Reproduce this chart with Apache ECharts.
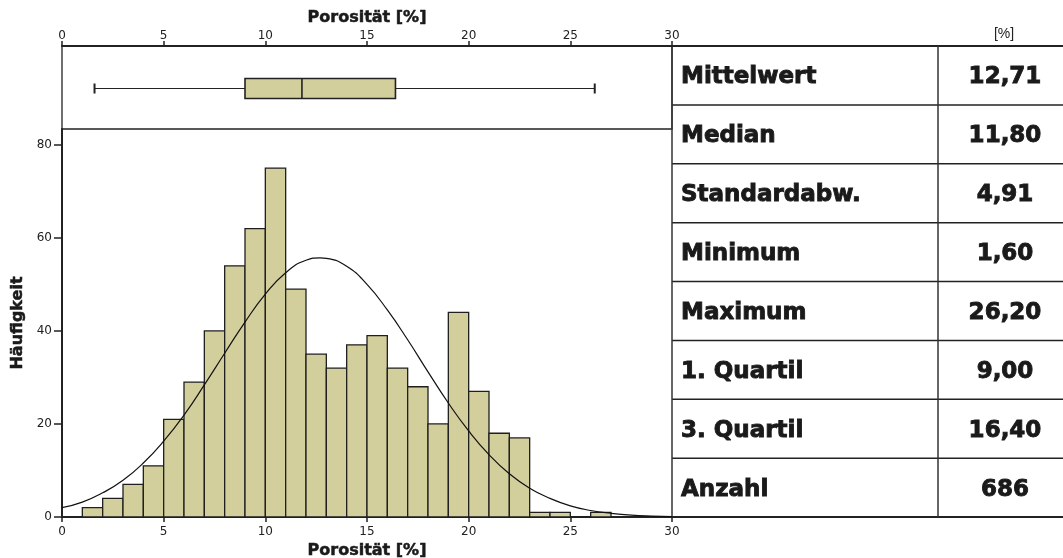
<!DOCTYPE html>
<html>
<head>
<meta charset="utf-8">
<script src="https://cdn.jsdelivr.net/npm/echarts@6/dist/echarts.min.js"></script>
<style>
  html, body { margin: 0; padding: 0; background: #fff; }
  #main { width: 1063px; height: 558px; }
</style>
</head>
<body>
<div id="main"></div>
<script>
// Klassen (1 %-Schritte) und Häufigkeiten
var binStarts = [1, 2, 3, 4, 5, 6, 7, 8, 9, 10, 11, 12, 13, 14, 15, 16, 17, 18, 19, 20, 21, 22, 23, 24, 25, 26];
var counts = [2, 4, 7, 11, 21, 29, 40, 54, 62, 75, 49, 35, 32, 37, 39, 32, 28, 20, 44, 27, 18, 17, 1, 1, 0, 1];

// Normalverteilungskurve
var curveX = [0, 1, 2, 3, 4, 5, 6, 7, 8, 9, 10, 11, 12, 12.7, 13, 14, 15, 16, 17, 18, 19, 20, 21, 22, 23, 24, 25, 26, 27, 28, 29, 30];
var curveY = [2.0, 3.2, 5.2, 7.9, 11.6, 16.3, 21.9, 28.4, 35.2, 41.9, 47.9, 52.5, 55.2, 55.7, 55.6, 53.9, 50.0, 44.5, 38.1, 31.2, 24.5, 18.5, 13.4, 9.3, 6.2, 4.0, 2.4, 1.4, 0.8, 0.4, 0.2, 0.1];

// Boxplot: Min, Q1, Median, Q3, Max
var boxStats = [1.6, 9.0, 11.8, 16.4, 26.2];

var yTicks = [0, 20, 40, 60, 80];
var statLabels = ['Mittelwert', 'Median', 'Standardabw.', 'Minimum', 'Maximum', '1. Quartil', '3. Quartil', 'Anzahl'];
var statValues = ['12,71', '11,80', '4,91', '1,60', '26,20', '9,00', '16,40', '686'];
var unitLabel = '[%]';

var chart = echarts.init(document.getElementById('main'));

// Tabelle rechts
var tblLeft = 672, tblMid = 938, tblRight = 1063, tblTop = 46, rowH = 58.875;
var lineStyle = { stroke: '#333', lineWidth: 1.5 };
var graphics = [];
for (var i = 0; i <= statLabels.length; i++) {
  var yy = tblTop + i * rowH;
  graphics.push({ type: 'line', shape: { x1: tblLeft, y1: yy, x2: tblRight, y2: yy },
    style: { stroke: '#222', lineWidth: (i == 0 || i == statLabels.length) ? 2 : 1.5 } });
}
graphics.push({ type: 'line', shape: { x1: tblLeft, y1: tblTop, x2: tblLeft, y2: tblTop + 8 * rowH }, style: lineStyle });
graphics.push({ type: 'line', shape: { x1: tblMid, y1: tblTop, x2: tblMid, y2: tblTop + 8 * rowH }, style: lineStyle });
var cellText = { fontSize: 23, fontWeight: 'bold', fontFamily: 'DejaVu Sans', fill: '#1a1a1a', stroke: '#1a1a1a', lineWidth: 0.9, verticalAlign: 'middle' };
statLabels.forEach(function (lab, i) {
  var cy = tblTop + (i + 0.5) * rowH + 2;
  graphics.push({ type: 'text', x: 681, y: cy,
    style: Object.assign({ text: lab, align: 'left' }, cellText) });
  graphics.push({ type: 'text', x: 1005, y: cy,
    style: Object.assign({ text: statValues[i], align: 'center' }, cellText) });
});
graphics.push({ type: 'text', x: 1004, y: 34,
  style: { text: unitLabel, fontSize: 14, fontFamily: 'Liberation Sans', fill: '#222', align: 'center', verticalAlign: 'middle' } });

var axisLbl = { fontSize: 12, color: '#222', fontFamily: 'DejaVu Sans' };
var nameStyle = { fontSize: 16, fontWeight: 'bold', color: '#1a1a1a', fontFamily: 'DejaVu Sans', textBorderColor: '#1a1a1a', textBorderWidth: 0.5 };

var option = {
  animation: false,
  backgroundColor: '#fff',
  grid: [
    { left: 62, top: 46, width: 610, height: 83, show: true, borderColor: '#222', borderWidth: 1.3, outerBoundsMode: 'none', containLabel: false },
    { left: 62, top: 129, width: 610, height: 388, show: false, outerBoundsMode: 'none', containLabel: false }
  ],
  xAxis: [
    {
      gridIndex: 0, type: 'value', position: 'top', min: 0, max: 30, interval: 5,
      axisLine: { show: true, onZero: false, lineStyle: { color: '#222', width: 2 } },
      axisTick: { show: true, length: 5, lineStyle: { color: '#222', width: 1.5 } },
      axisLabel: Object.assign({ margin: 4 }, axisLbl),
      splitLine: { show: false },
      name: 'Porosität [%]', nameLocation: 'middle', nameGap: 20, nameTextStyle: nameStyle
    },
    {
      gridIndex: 1, type: 'value', position: 'bottom', min: 0, max: 30, interval: 5,
      axisLine: { show: true, onZero: false, lineStyle: { color: '#222', width: 2 } },
      axisTick: { show: true, length: 5, lineStyle: { color: '#222', width: 1.5 } },
      axisLabel: Object.assign({ margin: 9 }, axisLbl),
      splitLine: { show: false },
      name: 'Porosität [%]', nameLocation: 'middle', nameGap: 24, nameTextStyle: nameStyle
    }
  ],
  yAxis: [
    { gridIndex: 0, type: 'value', min: 0, max: 1, show: false },
    {
      gridIndex: 1, type: 'value', min: 0, max: 83.4,
      axisLine: { show: true, onZero: false, lineStyle: { color: '#222', width: 2 } },
      axisTick: { show: true, length: 8, customValues: yTicks, lineStyle: { color: '#222', width: 1.5 } },
      axisLabel: Object.assign({ margin: 10, customValues: yTicks }, axisLbl),
      splitLine: { show: false },
      name: 'Häufigkeit', nameLocation: 'middle', nameGap: 36, nameRotate: 90, nameTextStyle: nameStyle
    }
  ],
  series: [
    {
      type: 'custom', xAxisIndex: 0, yAxisIndex: 0,
      data: [boxStats],
      encode: { x: [0, 1, 2, 3, 4] },
      renderItem: function (params, api) {
        var p = [0, 1, 2, 3, 4].map(function (k) { return api.coord([api.value(k), 0.5]); });
        var cy = p[0][1] + 1, h = 20, cap = 5;
        var st = { stroke: '#222', lineWidth: 1.2 };
        return {
          type: 'group',
          children: [
            { type: 'line', shape: { x1: p[0][0], y1: cy, x2: p[1][0], y2: cy }, style: st },
            { type: 'line', shape: { x1: p[3][0], y1: cy, x2: p[4][0], y2: cy }, style: st },
            { type: 'line', shape: { x1: p[0][0], y1: cy - cap, x2: p[0][0], y2: cy + cap }, style: { stroke: '#222', lineWidth: 2 } },
            { type: 'line', shape: { x1: p[4][0], y1: cy - cap, x2: p[4][0], y2: cy + cap }, style: { stroke: '#222', lineWidth: 2 } },
            { type: 'rect', shape: { x: p[1][0], y: cy - h / 2, width: p[3][0] - p[1][0], height: h },
              style: { fill: '#D3CF9C', stroke: '#222', lineWidth: 1.6 } },
            { type: 'line', shape: { x1: p[2][0], y1: cy - h / 2, x2: p[2][0], y2: cy + h / 2 }, style: { stroke: '#222', lineWidth: 1.6 } }
          ]
        };
      }
    },
    {
      type: 'custom', xAxisIndex: 1, yAxisIndex: 1,
      data: binStarts.map(function (s, i) { return [s, s + 1, counts[i]]; }),
      encode: { x: [0, 1], y: 2 },
      renderItem: function (params, api) {
        var a = api.coord([api.value(0), api.value(2)]);
        var b = api.coord([api.value(1), 0]);
        return {
          type: 'rect',
          shape: { x: a[0], y: a[1], width: b[0] - a[0], height: b[1] - a[1] },
          style: { fill: '#D3CF9C', stroke: '#1f1f1f', lineWidth: 1.3 }
        };
      }
    },
    {
      type: 'line', xAxisIndex: 1, yAxisIndex: 1, z: 5,
      data: curveX.map(function (x, i) { return [x, curveY[i]]; }),
      smooth: true, showSymbol: false, symbol: 'none',
      lineStyle: { color: '#111', width: 1.2 }
    }
  ],
  graphic: graphics
};

chart.setOption(option);
</script>
</body>
</html>
